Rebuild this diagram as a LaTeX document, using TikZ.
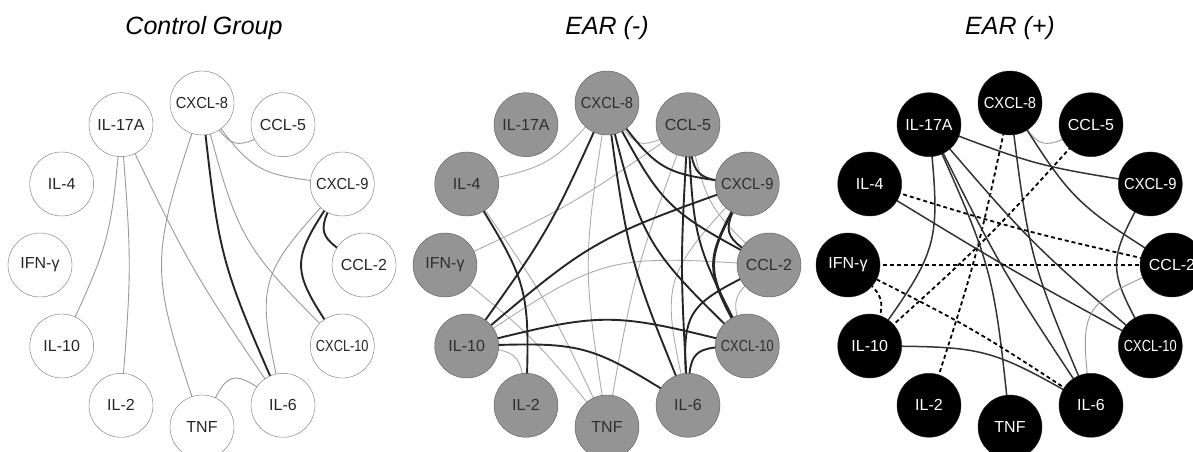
\documentclass[tikz,border=0pt]{standalone}
\usepackage{fontspec}
\setmainfont{Liberation Sans}
\usetikzlibrary{calc}
\pgfdeclarelayer{edges}
\pgfsetlayers{edges,main}
% curved link: control point pushed #4 pt to the right of the chord
\newcommand{\cn}[4][thn]{\draw[#1] (#2.center) .. controls ($(#2)!0.5!(#3)!#4pt!270:(#3)$) .. (#3.center);}
\newcommand{\sq}[2][0.8]{\scalebox{#1}[1]{#2}}

\begin{document}
\begin{tikzpicture}[x=1pt, y=1pt,
    cyto/.style={circle, minimum size=64pt, inner sep=0pt, font=\fontsize{16}{16}\selectfont},
    ctrl/.style={cyto, draw=black!55, fill=white, text=black!85},
    earn/.style={cyto, draw=black!65, fill=black!42, text=black!82},
    earp/.style={cyto, draw=black!85, fill=black, text=white},
    ttl/.style={anchor=base, font=\fontsize{25}{25}\selectfont\itshape},
    thn/.style={draw=black!40, line width=0.9pt},
    thk/.style={draw=black!85, line width=1.9pt},
    sol/.style={draw=black!80, line width=1.5pt},
    dsh/.style={draw=black, line width=1.8pt, dash pattern=on 4pt off 3pt}]
    \useasboundingbox (0,0) rectangle (1193,452);

    \node[ttl] (tctrl) at (204,417) {Control Group};
    \node[ttl] (tneg) at (607,417) {EAR (-)};
    \node[ttl] (tpos) at (1010,417) {EAR (+)};

    \foreach \p/\cx/\st in {a/202/ctrl, b/607/earn, c/1010/earp}
        \foreach \nm/\lb [count=\i from 0] in {x8/\sq[0.92]{CXCL-8}, c5/CCL-5, x9/\sq[0.92]{CXCL-9}, c2/CCL-2,
                x10/\sq{CXCL-10}, il6/IL-6, tnf/TNF, il2/IL-2, il10/IL-10, ifn/IFN-γ,
                il4/IL-4, il17/IL-17A}
            \node[\st] (\p\nm) at ({\cx+162*cos(90-30*\i)}, {187+162*sin(90-30*\i)}) {\lb};

    \begin{pgfonlayer}{edges}
    % Control Group
    \cn{ax8}{ac5}{40}
    \cn{ax8}{ax9}{36}
    \cn{ax8}{ax10}{38}
    \cn[thk]{ax8}{ail6}{24}
    \cn{ax8}{atnf}{54}
    \cn{ail10}{ail17}{20}
    \cn{ail2}{ail17}{11}
    \cn{ail17}{ail6}{12}
    \cn[thk]{ax9}{ac2}{40}
    \cn[thk]{ax9}{ax10}{55}
    \cn{ax9}{ail6}{60}
    \cn{ail6}{atnf}{52}

    % EAR (-)
    \cn[thn, draw=black!33]{bx8}{bc5}{40}
    \cn[thn, draw=black!33]{bil4}{bx8}{27}
    \cn[thn, draw=black!33]{bx8}{btnf}{25}
    \cn[thn, draw=black!33]{bifn}{bc5}{12}
    \cn[thn, draw=black!33]{bc5}{btnf}{14}
    \cn[thn, draw=black!33]{bc5}{bc2}{25}
    \cn[thn, draw=black!33]{btnf}{bil4}{12}
    \cn[thn, draw=black!33]{btnf}{bifn}{12}
    \cn[thn, draw=black!33]{bil2}{bil10}{35}
    \cn[thn, draw=black!33]{bc2}{bil10}{53}
    \cn[thn, draw=black!33]{bc2}{bx10}{30}
    \cn[thn, draw=black!33]{bx9}{bil6}{60}
    \cn[thk]{bil10}{bx8}{14}
    \cn[thk]{bx8}{bil6}{20}
    \cn[thk]{bx8}{bx10}{40}
    \cn[thk]{bx8}{bc2}{35}
    \cn[thk]{bx8}{bx9}{35}
    \cn[thk]{bc5}{bx9}{35}
    \cn[thk]{bc5}{bil6}{8}
    \cn[thk]{bc5}{bx10}{25}
    \cn[thk]{bx9}{bil10}{30}
    \cn[thk]{bx9}{bc2}{40}
    \cn[thk, line width=2.8pt]{bx9}{bx10}{45}
    \cn[thk]{bc2}{bil6}{55}
    \cn[thk]{bx10}{bil6}{40}
    \cn[thk]{bx10}{bil10}{35}
    \cn[thk]{bil6}{bil10}{35}
    \cn[thk]{bil2}{bil4}{35}

    % EAR (+)
    \cn{cx8}{cc5}{40}
    \cn[sol]{cx8}{cc2}{26}
    \cn[sol]{cx8}{cil6}{22}
    \cn[dsh]{cil2}{cx8}{8}
    \cn[dsh]{cil10}{cc5}{8}
    \cn[sol]{cil17}{cx9}{12}
    \cn[sol]{cil17}{cx10}{12}
    \cn[sol]{cil17}{cil6}{10}
    \cn[sol]{ctnf}{cil17}{25}
    \cn[sol]{cil10}{cil17}{43}
    \cn[dsh]{cil4}{cc2}{6}
    \cn[sol]{cil4}{cx10}{4}
    \cn[dsh]{cifn}{cc2}{0}
    \cn[dsh]{cil6}{cifn}{8}
    \cn[dsh]{cil10}{cifn}{30}
    \cn[sol]{cil6}{cil10}{30}
    \cn[sol]{cx9}{cx10}{45}
    \cn{cc2}{cil6}{61}
    \end{pgfonlayer}
\end{tikzpicture}
\end{document}
